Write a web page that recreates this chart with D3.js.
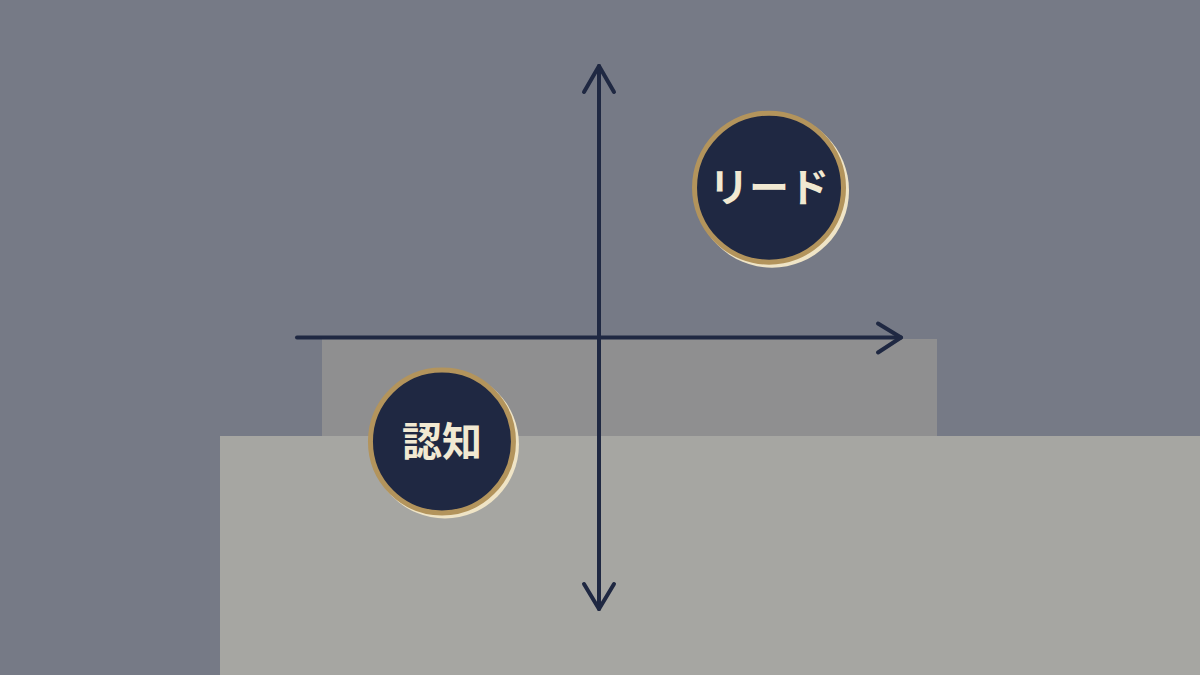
<!DOCTYPE html>
<html lang="ja">
<head>
<meta charset="utf-8">
<title>認知とリード</title>
<style>
body { margin: 0; background: #767a86; }
svg { display: block; }
.label { font-family: "Noto Sans CJK JP", "Noto Sans", sans-serif; font-weight: 700; fill: #f1e9d2; }
</style>
</head>
<body>
<div id="chart"></div>
<script src="https://cdn.jsdelivr.net/npm/d3@7"></script>
<script>

// quadrant positions, -1..1 on each axis
var labels = ["リード", "認知"];
var xValues = [0.563, -0.52];
var yValues = [0.552, -0.383];
var radii = [77, 74];

var width = 1200, height = 675;

var svg = d3.select("#chart").append("svg")
  .attr("width", width).attr("height", height);

var x = d3.scaleLinear().domain([-1, 1]).range([297, 901]);
var y = d3.scaleLinear().domain([-1, 1]).range([609, 66]);

// background blocks
svg.append("rect").attr("x", 322).attr("y", 339)
  .attr("width", 615).attr("height", 97).attr("fill", "#8f8f90");
svg.append("rect").attr("x", 220).attr("y", 436)
  .attr("width", 980).attr("height", 239).attr("fill", "#a6a6a2");

var ink = "#1f2842";

// horizontal axis, arrow at right
var hx = svg.append("g").attr("fill", "none").attr("stroke", ink)
  .attr("stroke-width", 4).attr("stroke-linecap", "round").attr("stroke-linejoin", "round");
hx.append("line").attr("x1", x(-1)).attr("x2", x(1)).attr("y1", y(0)).attr("y2", y(0));
hx.append("polyline").attr("points", [[x(1) - 23, y(0) - 14], [x(1), y(0)], [x(1) - 23, y(0) + 15]].join(" "));

// vertical axis, arrows at both ends
hx.append("line").attr("x1", x(0)).attr("x2", x(0)).attr("y1", y(1)).attr("y2", y(-1));
hx.append("polyline").attr("points", [[x(0) - 15, y(1) + 26], [x(0), y(1)], [x(0) + 15, y(1) + 26]].join(" "));
hx.append("polyline").attr("points", [[x(0) - 15, y(-1) - 25], [x(0), y(-1)], [x(0) + 15, y(-1) - 25]].join(" "));

var nodes = svg.selectAll("g.node").data(labels).enter().append("g")
  .attr("class", "node")
  .attr("transform", function(d, i) { return "translate(" + x(xValues[i]) + "," + y(yValues[i]) + ")"; });

// cream shadow
nodes.append("circle").attr("cx", 3).attr("cy", 3)
  .attr("r", function(d, i) { return radii[i]; }).attr("fill", "#efe4c6");
nodes.append("circle")
  .attr("r", function(d, i) { return radii[i] - 2.5; })
  .attr("fill", ink).attr("stroke", "#b3945c").attr("stroke-width", 5);
nodes.append("text").attr("class", "label")
  .attr("text-anchor", "middle").attr("dy", "0.36em")
  .attr("font-size", 40)
  .text(function(d) { return d; });

</script>
</body>
</html>
